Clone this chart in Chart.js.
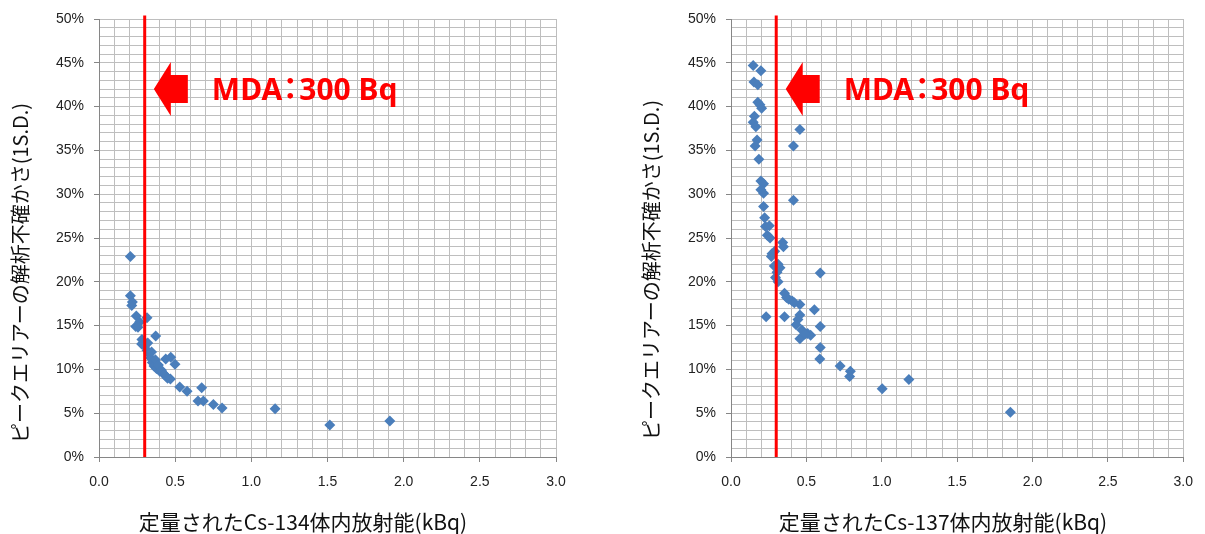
<!DOCTYPE html>
<html>
<head>
<meta charset="utf-8">
<script src="https://cdn.jsdelivr.net/npm/chart.js@4.4.1/dist/chart.umd.min.js"></script>
<style>
html, body { margin: 0; padding: 0; background: #fff; width: 1205px; height: 534px; overflow: hidden; }
.box { position: absolute; top: 0; height: 534px; }
#box134 { left: 0; width: 600px; }
#box137 { left: 600px; width: 605px; }
</style>
</head>
<body>
<div id="box134" class="box"><canvas id="chartCs134"></canvas></div>
<div id="box137" class="box"><canvas id="chartCs137"></canvas></div>
<script>
// du lieu doc tu hinh (x: kBq, y: %)
var cs134X = [0.206, 0.206, 0.219, 0.215, 0.245, 0.315, 0.267, 0.241, 0.256, 0.372, 0.282, 0.280, 0.300, 0.315, 0.328, 0.339,
    0.350, 0.361, 0.377, 0.399, 0.420, 0.442, 0.469, 0.438, 0.471, 0.499, 0.530, 0.578, 0.674, 0.650, 0.685, 0.751,
    0.808, 1.156, 1.515, 1.909, 0.320, 0.345, 0.370, 0.390, 0.410, 0.430, 0.450]
var cs134Y = [22.9, 18.4, 17.7, 17.3, 16.1, 15.9, 15.4, 14.9, 14.8, 13.8, 13.4, 12.9, 12.7, 12.2, 11.8, 11.3,
    10.8, 10.4, 10.1, 9.8, 9.55, 9.2, 8.9, 11.2, 11.4, 10.6, 8.0, 7.5, 7.9, 6.4, 6.4, 6.0,
    5.6, 5.5, 3.65, 4.1, 13.0, 12.0, 11.1, 10.5, 9.9, 9.4, 9.0]

var cs137X = [0.147, 0.198, 0.152, 0.178, 0.178, 0.192, 0.203, 0.155, 0.147, 0.165, 0.457, 0.173, 0.160, 0.414, 0.185, 0.198,
    0.216, 0.198, 0.216, 0.414, 0.216, 0.223, 0.229, 0.254, 0.241, 0.259, 0.343, 0.348, 0.272, 0.268, 0.290, 0.312,
    0.287, 0.325, 0.305, 0.295, 0.312, 0.592, 0.355, 0.368, 0.383, 0.406, 0.457, 0.420, 0.553, 0.233, 0.355, 0.457,
    0.444, 0.592, 0.432, 0.470, 0.508, 0.528, 0.457, 0.490, 0.592, 0.589, 0.724, 0.792, 0.787, 1.003, 1.180, 1.853]
var cs137Y = [44.7, 44.1, 42.8, 42.5, 40.5, 40.2, 39.8, 38.9, 38.2, 37.7, 37.4, 36.2, 35.5, 35.5, 34.0, 31.5,
    31.2, 30.5, 30.1, 29.3, 28.6, 27.3, 26.3, 26.4, 25.3, 25.0, 24.5, 24.0, 23.2, 22.9, 23.5, 22.0,
    21.8, 21.6, 21.1, 20.5, 20.0, 21.0, 18.7, 18.2, 18.0, 17.8, 17.4, 17.6, 16.8, 16.0, 16.0, 16.2,
    15.7, 14.9, 15.1, 14.5, 14.1, 13.9, 13.5, 14.0, 12.5, 11.2, 10.4, 9.8, 9.2, 7.8, 8.85, 5.1]

var mdaX = [0.3, 0.3]      // MDA 300 Bq = 0.3 kBq
var mdaY = [0, 50.4]
var xRange = [0, 3]
var yRange = [0, 50]
var xMajor = 0.5
var yMajor = 5

var titleX134 = '定量されたCs-134体内放射能(kBq)'
var titleX137 = '定量されたCs-137体内放射能(kBq)'
var titleY = 'ピークエリアーの解析不確かさ(1S.D.)'
var mdaText = ['MDA', '：', '300 Bq']

function toPoints(xs, ys) {
    var pts = []
    for (var i = 0; i < xs.length; i++) pts.push({ x: xs[i], y: ys[i] })
    return pts
}
function isMajor(v, step) {
    return Math.abs(v / step - Math.round(v / step)) < 1e-6
}

// mui ten + chu MDA
var mdaPlugin = {
    id: 'mdaNote',
    afterDatasetsDraw: function (chart, args, opts) {
        var ctx = chart.ctx
        var tx = chart.scales.x.getPixelForValue(opts.x)
        var ty = chart.scales.y.getPixelForValue(opts.y)
        ctx.save()
        ctx.fillStyle = '#FF0000'
        ctx.beginPath()
        ctx.moveTo(tx, ty)
        ctx.lineTo(tx + 17, ty - 27)
        ctx.lineTo(tx + 17, ty - 14)
        ctx.lineTo(tx + 34, ty - 14)
        ctx.lineTo(tx + 34, ty + 14)
        ctx.lineTo(tx + 17, ty + 14)
        ctx.lineTo(tx + 17, ty + 27)
        ctx.closePath()
        ctx.fill()
        // chu: "MDA" + dau hai cham (hep) + "300 Bq"
        ctx.font = 'bold 30px "Noto Sans", "Noto Sans CJK JP", sans-serif'
        ctx.textBaseline = 'alphabetic'
        var x0 = tx + 58, base = ty + 11
        ctx.textAlign = 'left'
        ctx.fillText(mdaText[0], x0, base)
        var w0 = ctx.measureText(mdaText[0]).width
        ctx.textAlign = 'center'
        ctx.fillText(mdaText[1], x0 + w0 + 8, base - 1)
        ctx.textAlign = 'left'
        ctx.fillText(mdaText[2], x0 + w0 + 17, base)
        ctx.restore()
    }
}

// tieu de truc (ve tay de dat dung vi tri)
var titlePlugin = {
    id: 'axisTitles',
    afterDraw: function (chart, args, opts) {
        var ctx = chart.ctx
        ctx.save()
        ctx.fillStyle = '#111'
        ctx.textAlign = 'center'
        ctx.textBaseline = 'middle'
        ctx.font = '21px "Noto Sans CJK JP", sans-serif'
        ctx.fillText(opts.xText, opts.xPos[0], opts.xPos[1], 334)
        ctx.font = '20px "Noto Sans CJK JP", sans-serif'
        ctx.translate(opts.yPos[0], opts.yPos[1])
        ctx.rotate(-Math.PI / 2)
        ctx.fillText(opts.yText, 0, 0, 346)
        ctx.restore()
    }
}

function makeChart(id, xs, ys, yWidth, pad, mdaAt, titles) {
    return new Chart(document.getElementById(id), {
        type: 'scatter',
        data: {
            datasets: [
                { label: 'MDA', data: toPoints(mdaX, mdaY), showLine: true, borderColor: '#FF0000', borderWidth: 3,
                  pointRadius: 0, clip: false },
                { label: 'data', data: toPoints(xs, ys), pointStyle: 'rectRot', pointRadius: 5.5,
                  backgroundColor: '#4A7EBB', borderColor: '#4A7EBB', borderWidth: 0, pointHoverRadius: 5.5 }
            ]
        },
        options: {
            responsive: true,
            maintainAspectRatio: false,
            animation: false,
            devicePixelRatio: 1,
            layout: { padding: pad },
            scales: {
                x: {
                    type: 'linear', min: xRange[0], max: xRange[1],
                    ticks: {
                        stepSize: 0.1, autoSkip: false, maxRotation: 0, padding: 12, color: '#222',
                        font: { family: 'Liberation Sans', size: 14 },
                        callback: function (v) { return isMajor(v, xMajor) ? v.toFixed(1) : '' }
                    },
                    grid: {
                        lineWidth: 1, tickLength: 5,
                        color: function (c) { return c.tick && c.tick.value === 0 ? '#868686' : '#BEBEBE' },
                        tickColor: function (c) { return c.tick && isMajor(c.tick.value, xMajor) ? '#868686' : 'rgba(0,0,0,0)' }
                    },
                    border: { color: '#868686', width: 1 },
                    afterFit: function (s) { s.height = 77 }
                },
                y: {
                    type: 'linear', min: yRange[0], max: yRange[1],
                    ticks: {
                        stepSize: 1, autoSkip: false, padding: 10, color: '#222',
                        font: { family: 'Liberation Sans', size: 14 },
                        callback: function (v) { return isMajor(v, yMajor) ? v + '%' : '' }
                    },
                    grid: {
                        lineWidth: 1, tickLength: 5,
                        color: function (c) { return c.tick && c.tick.value === 0 ? '#868686' : '#BEBEBE' },
                        tickColor: function (c) { return c.tick && isMajor(c.tick.value, yMajor) ? '#868686' : 'rgba(0,0,0,0)' }
                    },
                    border: { color: '#868686', width: 1 },
                    afterFit: function (s) { s.width = yWidth }
                }
            },
            plugins: {
                legend: { display: false },
                tooltip: { enabled: false },
                mdaNote: { x: mdaAt[0], y: mdaAt[1] },
                axisTitles: titles
            }
        },
        plugins: [mdaPlugin, titlePlugin]
    })
}

var chart134 = makeChart('chartCs134', cs134X, cs134Y, 99, { left: 0, right: 44, top: 19, bottom: 0 }, [0.36, 42.0],
    { xText: titleX134, xPos: [303, 522], yText: titleY, yPos: [20.5, 273] })
var chart137 = makeChart('chartCs137', cs137X, cs137Y, 131, { left: 0, right: 17, top: 19, bottom: 0 }, [0.363, 42.0],
    { xText: titleX137, xPos: [343, 522], yText: titleY, yPos: [51.5, 270] })
</script>
</body>
</html>
